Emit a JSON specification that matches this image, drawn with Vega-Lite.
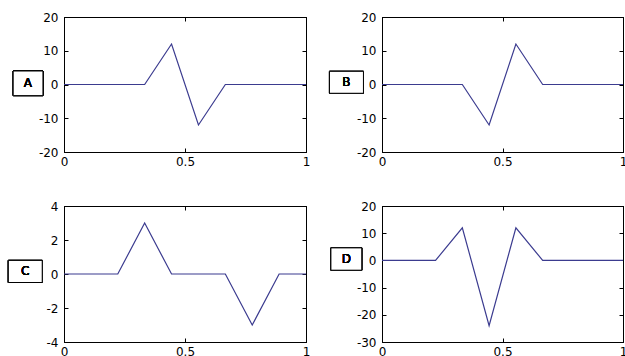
{
  "$schema": "https://vega.github.io/schema/vega-lite/v6.json",
  "background": "white",
  "padding": {"left": 7, "top": 10, "right": 0, "bottom": 0},
  "columns": 2,
  "spacing": {"row": 54, "column": 76},
  "bounds": "flush",
  "datasets": {
    "A": [{"x":0,"y":0},{"x":0.3333,"y":0},{"x":0.4444,"y":12},{"x":0.5556,"y":-12},{"x":0.6667,"y":0},{"x":1,"y":0}],
    "B": [{"x":0,"y":0},{"x":0.3333,"y":0},{"x":0.4444,"y":-12},{"x":0.5556,"y":12},{"x":0.6667,"y":0},{"x":1,"y":0}],
    "C": [{"x":0,"y":0},{"x":0.2222,"y":0},{"x":0.3333,"y":3},{"x":0.4444,"y":0},{"x":0.6667,"y":0},{"x":0.7778,"y":-3},{"x":0.8889,"y":0},{"x":1,"y":0}],
    "D": [{"x":0,"y":0},{"x":0.2222,"y":0},{"x":0.3333,"y":12},{"x":0.4444,"y":-24},{"x":0.5556,"y":12},{"x":0.6667,"y":0},{"x":1,"y":0}]
  },
  "concat": [
    {
      "data": {"name": "A"},
      "width": 242, "height": 135,
      "layer": [
        {"mark": {"type": "line", "color": "#3b3b8f", "strokeWidth": 1.2},
         "encoding": {
           "x": {"field": "x", "type": "quantitative", "title": null, "scale": {"domain": [0, 1], "nice": false, "zero": false}, "axis": {"orient": "bottom", "values": [0, 0.5, 1], "format": "~g"}},
           "y": {"field": "y", "type": "quantitative", "title": null, "scale": {"domain": [-20, 20], "nice": false}, "axis": {"orient": "left", "values": [-20, -10, 0, 10, 20]}}}},
        {"mark": {"type": "point", "opacity": 0},
         "encoding": {
           "x": {"field": "x", "type": "quantitative", "title": null, "axis": {"orient": "top", "values": [0, 0.5, 1], "labels": false}},
           "y": {"field": "y", "type": "quantitative", "title": null, "axis": {"orient": "right", "values": [-20, -10, 0, 10, 20], "labels": false}}}},
        {"mark": {"type": "rect", "fill": "white", "stroke": "black", "strokeWidth": 1},
         "encoding": {
           "x": {"datum": -0.21, "type": "quantitative", "axis": null}, "x2": {"datum": -0.087},
           "y": {"datum": 4, "type": "quantitative", "axis": null}, "y2": {"datum": -3.3}}},
        {"mark": {"type": "text", "font": "DejaVu Sans", "fontSize": 12, "color": "black"},
         "encoding": {
           "x": {"datum": -0.149, "type": "quantitative", "axis": null},
           "y": {"datum": 0.3, "type": "quantitative", "axis": null},
           "text": {"value": "A"}}}
      ],
      "resolve": {"axis": {"x": "independent", "y": "independent"}}
    },
    {
      "data": {"name": "B"},
      "width": 241, "height": 135,
      "layer": [
        {"mark": {"type": "line", "color": "#3b3b8f", "strokeWidth": 1.2},
         "encoding": {
           "x": {"field": "x", "type": "quantitative", "title": null, "scale": {"domain": [0, 1], "nice": false, "zero": false}, "axis": {"orient": "bottom", "values": [0, 0.5, 1], "format": "~g"}},
           "y": {"field": "y", "type": "quantitative", "title": null, "scale": {"domain": [-20, 20], "nice": false}, "axis": {"orient": "left", "values": [-20, -10, 0, 10, 20]}}}},
        {"mark": {"type": "point", "opacity": 0},
         "encoding": {
           "x": {"field": "x", "type": "quantitative", "title": null, "axis": {"orient": "top", "values": [0, 0.5, 1], "labels": false}},
           "y": {"field": "y", "type": "quantitative", "title": null, "axis": {"orient": "right", "values": [-20, -10, 0, 10, 20], "labels": false}}}},
        {"mark": {"type": "rect", "fill": "white", "stroke": "black", "strokeWidth": 1},
         "encoding": {
           "x": {"datum": -0.218, "type": "quantitative", "axis": null}, "x2": {"datum": -0.077},
           "y": {"datum": 3.9, "type": "quantitative", "axis": null}, "y2": {"datum": -2.6}}},
        {"mark": {"type": "text", "font": "DejaVu Sans", "fontSize": 12, "color": "black"},
         "encoding": {
           "x": {"datum": -0.148, "type": "quantitative", "axis": null},
           "y": {"datum": 0.6, "type": "quantitative", "axis": null},
           "text": {"value": "B"}}}
      ],
      "resolve": {"axis": {"x": "independent", "y": "independent"}}
    },
    {
      "data": {"name": "C"},
      "width": 242, "height": 136,
      "layer": [
        {"mark": {"type": "line", "color": "#3b3b8f", "strokeWidth": 1.2},
         "encoding": {
           "x": {"field": "x", "type": "quantitative", "title": null, "scale": {"domain": [0, 1], "nice": false, "zero": false}, "axis": {"orient": "bottom", "values": [0, 0.5, 1], "format": "~g"}},
           "y": {"field": "y", "type": "quantitative", "title": null, "scale": {"domain": [-4, 4], "nice": false}, "axis": {"orient": "left", "values": [-4, -2, 0, 2, 4]}}}},
        {"mark": {"type": "point", "opacity": 0},
         "encoding": {
           "x": {"field": "x", "type": "quantitative", "title": null, "axis": {"orient": "top", "values": [0, 0.5, 1], "labels": false}},
           "y": {"field": "y", "type": "quantitative", "title": null, "axis": {"orient": "right", "values": [-4, -2, 0, 2, 4], "labels": false}}}},
        {"mark": {"type": "rect", "fill": "white", "stroke": "black", "strokeWidth": 1},
         "encoding": {
           "x": {"datum": -0.23, "type": "quantitative", "axis": null}, "x2": {"datum": -0.09},
           "y": {"datum": 0.8, "type": "quantitative", "axis": null}, "y2": {"datum": -0.5}}},
        {"mark": {"type": "text", "font": "DejaVu Sans", "fontSize": 12, "color": "black"},
         "encoding": {
           "x": {"datum": -0.16, "type": "quantitative", "axis": null},
           "y": {"datum": 0.15, "type": "quantitative", "axis": null},
           "text": {"value": "C"}}}
      ],
      "resolve": {"axis": {"x": "independent", "y": "independent"}}
    },
    {
      "data": {"name": "D"},
      "width": 241, "height": 136,
      "layer": [
        {"mark": {"type": "line", "color": "#3b3b8f", "strokeWidth": 1.2},
         "encoding": {
           "x": {"field": "x", "type": "quantitative", "title": null, "scale": {"domain": [0, 1], "nice": false, "zero": false}, "axis": {"orient": "bottom", "values": [0, 0.5, 1], "format": "~g"}},
           "y": {"field": "y", "type": "quantitative", "title": null, "scale": {"domain": [-30, 20], "nice": false}, "axis": {"orient": "left", "values": [-30, -20, -10, 0, 10, 20]}}}},
        {"mark": {"type": "point", "opacity": 0},
         "encoding": {
           "x": {"field": "x", "type": "quantitative", "title": null, "axis": {"orient": "top", "values": [0, 0.5, 1], "labels": false}},
           "y": {"field": "y", "type": "quantitative", "title": null, "axis": {"orient": "right", "values": [-30, -20, -10, 0, 10, 20], "labels": false}}}},
        {"mark": {"type": "rect", "fill": "white", "stroke": "black", "strokeWidth": 1},
         "encoding": {
           "x": {"datum": -0.212, "type": "quantitative", "axis": null}, "x2": {"datum": -0.084},
           "y": {"datum": 4.6, "type": "quantitative", "axis": null}, "y2": {"datum": -3.6}}},
        {"mark": {"type": "text", "font": "DejaVu Sans", "fontSize": 12, "color": "black"},
         "encoding": {
           "x": {"datum": -0.148, "type": "quantitative", "axis": null},
           "y": {"datum": 0.5, "type": "quantitative", "axis": null},
           "text": {"value": "D"}}}
      ],
      "resolve": {"axis": {"x": "independent", "y": "independent"}}
    }
  ],
  "config": {
    "view": {"stroke": "black", "strokeWidth": 1},
    "axis": {
      "grid": false,
      "domainColor": "black",
      "domainWidth": 1,
      "tickColor": "black",
      "tickSize": -4,
      "tickWidth": 1,
      "labelColor": "black",
      "labelFont": "DejaVu Sans",
      "labelFontSize": 12,
      "labelFlush": false,
      "labelOverlap": false
    },
    "axisX": {"labelPadding": 8},
    "axisY": {"labelPadding": 10, "labelExpr": "replace(datum.label, '\u2212', '-')"}
  }
}
